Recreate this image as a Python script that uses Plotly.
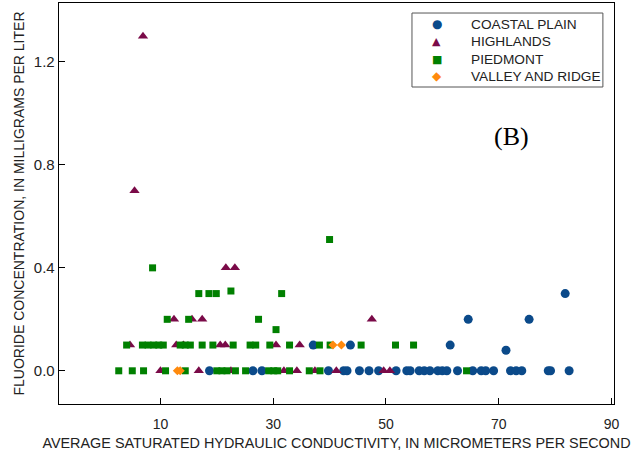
import plotly.graph_objects as go

# ---- data ----
coastal_x = [18.7, 26.4, 28.0, 39.8, 42.5, 43.1, 45.3, 47.0, 48.7, 51.8, 53.7, 54.3,
             55.9, 56.8, 57.8, 59.2, 60.0, 60.8, 62.7, 65.4, 66.9, 67.7, 69.1, 72.1,
             73.1, 74.1, 78.8, 79.2, 82.5, 37.1, 43.7, 61.4, 71.3, 64.6, 75.4, 81.8]
coastal_y = [0.0, 0.0, 0.0, 0.0, 0.0, 0.0, 0.0, 0.0, 0.0, 0.0, 0.0, 0.0,
             0.0, 0.0, 0.0, 0.0, 0.0, 0.0, 0.0, 0.0, 0.0, 0.0, 0.0, 0.0,
             0.0, 0.0, 0.0, 0.0, 0.0, 0.1, 0.1, 0.1, 0.08, 0.2, 0.2, 0.3]

highlands_x = [6.9, 5.4, 21.6, 23.2, 12.4, 15.6, 17.4, 47.5,
               4.6, 12.8, 14.1, 20.6, 21.5, 30.5, 34.7,
               10.0, 16.8, 22.5, 31.9, 34.2, 37.4, 41.2, 49.6, 50.7]
highlands_y = [1.3, 0.7, 0.4, 0.4, 0.2, 0.2, 0.2, 0.2,
               0.1, 0.1, 0.1, 0.1, 0.1, 0.1, 0.1,
               0.0, 0.0, 0.0, 0.0, 0.0, 0.0, 0.0, 0.0, 0.0]

piedmont_x = [40.0, 8.6, 22.5, 16.8, 18.6, 19.9, 31.5,
              11.2, 15.0, 27.4, 30.5,
              4.0, 6.8, 7.8, 8.8, 9.7, 10.5, 13.5, 14.4, 15.3, 17.4, 19.3,
              22.9, 25.9, 26.9, 29.4, 32.9, 38.2, 40.1, 45.6, 51.7, 54.9,
              2.6, 5.0, 7.0, 10.9, 14.4, 20.0, 20.9, 21.8, 23.3, 25.1, 29.2,
              30.1, 30.8, 32.9, 36.4, 38.3, 64.3]
piedmont_y = [0.51, 0.4, 0.31, 0.3, 0.3, 0.3, 0.3,
              0.2, 0.2, 0.2, 0.16,
              0.1, 0.1, 0.1, 0.1, 0.1, 0.1, 0.1, 0.1, 0.1, 0.1, 0.1,
              0.1, 0.1, 0.1, 0.1, 0.1, 0.1, 0.1, 0.1, 0.1, 0.1,
              0.0, 0.0, 0.0, 0.0, 0.0, 0.0, 0.0, 0.0, 0.0, 0.0, 0.0,
              0.0, 0.0, 0.0, 0.0, 0.0, 0.0]

valley_x = [13.0, 13.5, 40.6, 42.1]
valley_y = [0.0, 0.0, 0.1, 0.1]

x_ticks = [10, 30, 50, 70, 90]
y_ticks = [0.0, 0.4, 0.8, 1.2]

series_names = ["COASTAL PLAIN", "HIGHLANDS", "PIEDMONT", "VALLEY AND RIDGE"]
series_colors = ["#0B4A8A", "#7A0A48", "#008000", "#FF8A0D"]
legend_glyphs = ["\u25CF", "\u25B2", "\u25A0", "\u25C6"]

FONT = "Arial, Liberation Sans, sans-serif"
TXT = "#222"

fig = go.Figure()
fig.add_trace(go.Scatter(x=coastal_x, y=coastal_y, mode="markers", name=series_names[0],
                         marker=dict(symbol="circle", size=9, color=series_colors[0], line=dict(width=0))))
fig.add_trace(go.Scatter(x=highlands_x, y=highlands_y, mode="markers", name=series_names[1],
                         marker=dict(symbol="triangle-up", size=9, color=series_colors[1], line=dict(width=0))))
fig.add_trace(go.Scatter(x=piedmont_x, y=piedmont_y, mode="markers", name=series_names[2],
                         marker=dict(symbol="square", size=7, color=series_colors[2], line=dict(width=0))))
fig.add_trace(go.Scatter(x=valley_x, y=valley_y, mode="markers", name=series_names[3],
                         marker=dict(symbol="diamond", size=7, color=series_colors[3], line=dict(width=0))))

axis_common = dict(showgrid=False, zeroline=False, showline=True, linecolor="black",
                   linewidth=1.3, mirror=True, ticks="inside", ticklen=6, tickcolor="black")

# compact legend box (paper coordinates of the plot area)
leg_x0, leg_x1, leg_y0, leg_y1 = 0.636, 0.980, 0.7905, 0.975
row_y = [0.947, 0.903, 0.860, 0.817]
annotations = []
glyph_sizes = [12, 11, 11, 12]
for name, col, g, gy, gs in zip(series_names, series_colors, legend_glyphs, row_y, glyph_sizes):
    annotations.append(dict(text=g, x=0.681, y=gy, xref="paper", yref="paper", showarrow=False,
                            xanchor="center", yanchor="middle",
                            font=dict(family="DejaVu Sans", size=gs, color=col)))
    annotations.append(dict(text=name, x=0.7387, y=gy, xref="paper", yref="paper", showarrow=False,
                            xanchor="left", yanchor="middle",
                            font=dict(family=FONT, size=13.7, color=TXT)))
annotations.append(dict(text="(B)", x=0.816, y=0.666, xref="paper", yref="paper",
                        showarrow=False, xanchor="center", yanchor="middle",
                        font=dict(family="Liberation Serif, Times New Roman, serif", size=26, color="black")))

fig.update_layout(
    width=643, height=452,
    margin=dict(l=59, r=29, t=3, b=48),
    paper_bgcolor="white", plot_bgcolor="white",
    font=dict(family=FONT, size=14, color=TXT),
    hovermode=False,
    xaxis=dict(range=[-8, 90.46], tickvals=x_ticks, ticklabelstandoff=7,
               tickfont=dict(family=FONT, size=14, color=TXT),
               title=dict(text="AVERAGE SATURATED HYDRAULIC CONDUCTIVITY, IN MICROMETERS PER SECOND",
                          font=dict(family=FONT, size=14.4, color=TXT), standoff=6),
               **axis_common),
    yaxis=dict(range=[-0.129, 1.429], tickvals=y_ticks, tickformat=".1f",
               tickfont=dict(family=FONT, size=15, color=TXT),
               title=dict(text="FLUORIDE CONCENTRATION, IN MILLIGRAMS PER LITER",
                          font=dict(family=FONT, size=14, color=TXT), standoff=6),
               **axis_common),
    showlegend=False,
    shapes=[dict(type="rect", xref="paper", yref="paper", x0=leg_x0, x1=leg_x1, y0=leg_y0, y1=leg_y1,
                 line=dict(color="#555", width=1), fillcolor="white", layer="above")],
    annotations=annotations,
)

fig.write_html("out.html", config={"displayModeBar": False, "staticPlot": True},
               post_script="document.body.style.margin='0';document.body.style.padding='0';")
